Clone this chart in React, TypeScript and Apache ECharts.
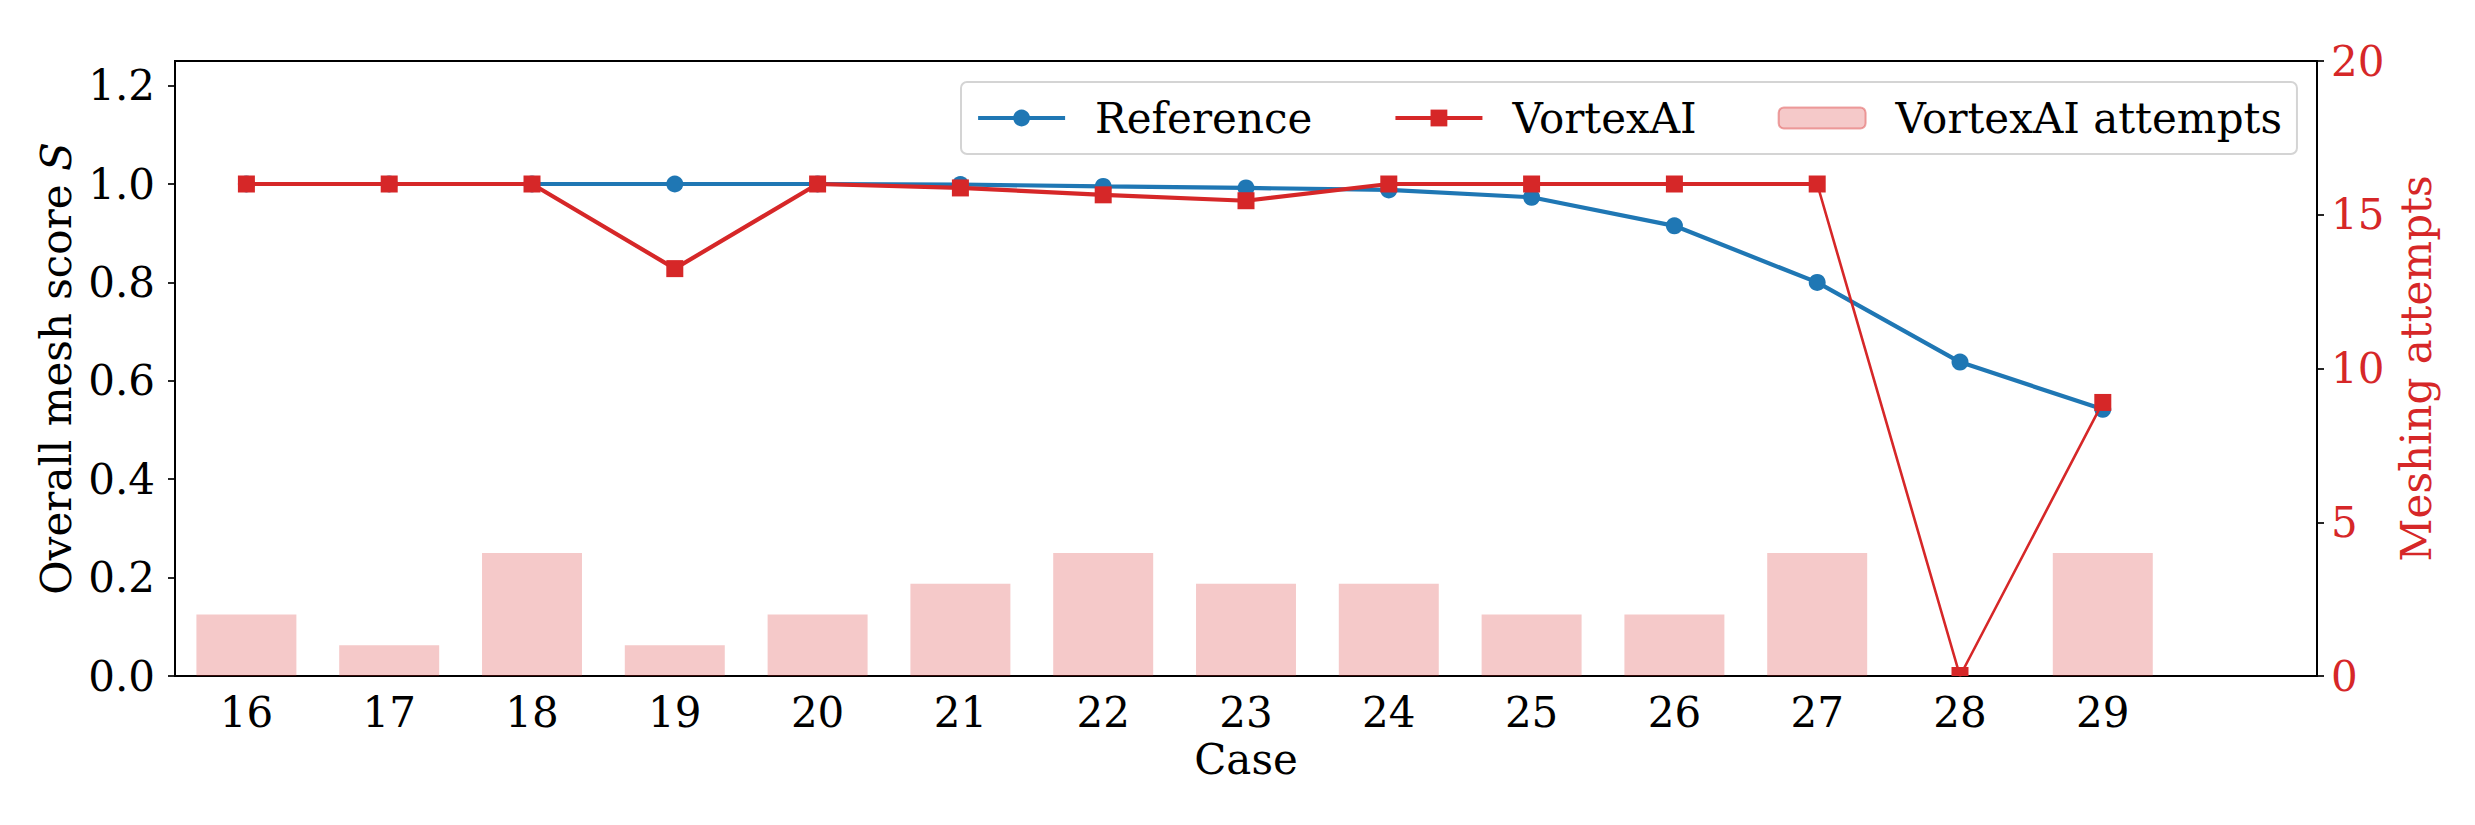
import React, { useEffect, useRef } from "react";
import * as echarts from "echarts";

const cases = [16, 17, 18, 19, 20, 21, 22, 23, 24, 25, 26, 27, 28, 29];
const referenceScores = [1.0, 1.0, 1.0, 1.0, 1.0, 0.999, 0.995, 0.992, 0.988, 0.973, 0.915, 0.8, 0.638, 0.542];
const vortexScores = [1.0, 1.0, 1.0, 0.828, 1.0, 0.992, 0.978, 0.966, 1.0, 1.0, 1.0, 1.0, 0.0, 0.556];
const vortexAttempts = [2, 1, 4, 1, 2, 3, 4, 3, 3, 2, 2, 4, 0, 4];
const leftTicks = [0, 0.2, 0.4, 0.6, 0.8, 1.0, 1.2];
const rightTicks = [0, 5, 10, 15, 20];
const lastRegularIndex = 11; // case 27: the last point of the thick VortexAI line

const FONT = "DejaVu Serif";
const RED = "#d62728";
const BLUE = "#1f77b4";

export default function App() {
  const ref = useRef<HTMLDivElement>(null);

  useEffect(() => {
    if (!ref.current) return;
    const chart = echarts.init(ref.current, undefined, { renderer: "svg" });

    const categories = [...cases.map(String), ""];

    const mainVortex = vortexScores.map((v, i) => (i <= lastRegularIndex ? v : null));
    const tailVortex = vortexScores.map((v, i) => {
      if (i < lastRegularIndex) return null;
      if (i === lastRegularIndex) return { value: v, symbol: "none" };
      if (v === 0) return { value: v, symbolSize: [17, 9], symbolOffset: [0, -4.5] };
      return v;
    });

    const option: any = {
      animation: false,
      backgroundColor: "#ffffff",
      textStyle: { fontFamily: FONT },
      grid: {
        left: 175,
        right: 158,
        top: 61,
        bottom: 149,
        show: true,
        borderColor: "#000",
        borderWidth: 2,
        backgroundColor: "transparent",
      },
      legend: {
        left: 961,
        top: 82,
        padding: [15, 15, 15, 15],
        itemWidth: 87,
        itemHeight: 21,
        itemGap: 81,
        borderColor: "#d4d4d4",
        borderWidth: 2,
        borderRadius: 6,
        backgroundColor: "rgba(255,255,255,0.8)",
        lineStyle: { width: 4.2 },
        textStyle: { fontFamily: FONT, fontSize: 42, color: "#000", padding: [0, 0, 0, 25] },
        data: [
          { name: "Reference" },
          { name: "VortexAI" },
          {
            name: "VortexAI attempts",
            itemStyle: { borderColor: "rgba(214,39,40,0.4)", borderWidth: 2 },
          },
        ],
      },
      xAxis: {
        type: "category",
        data: categories,
        boundaryGap: true,
        name: "Case",
        nameLocation: "middle",
        nameGap: 62,
        nameTextStyle: { fontFamily: FONT, fontSize: 42, color: "#000" },
        axisLine: { lineStyle: { color: "#000", width: 2 } },
        axisTick: {
          alignWithLabel: true,
          length: 7,
          interval: (i: number) => i < cases.length,
          lineStyle: { color: "#000", width: 1.7 },
        },
        axisLabel: {
          interval: 0,
          fontFamily: FONT,
          fontSize: 42,
          color: "#000",
          margin: 15,
        },
        splitLine: { show: false },
      },
      yAxis: [
        {
          type: "value",
          min: 0,
          max: 1.25,
          interval: 0.2,
          position: "left",
          name: "Overall mesh score {s|S}",
          nameLocation: "middle",
          nameGap: 82,
          nameTextStyle: {
            fontFamily: FONT,
            fontSize: 42,
            color: "#000",
            rich: { s: { fontFamily: FONT, fontSize: 42, fontStyle: "italic", color: "#000" } },
          },
          axisLine: { show: true, lineStyle: { color: "#000", width: 2 } },
          axisTick: { show: true, length: 7, customValues: leftTicks, lineStyle: { color: "#000", width: 1.7 } },
          axisLabel: {
            customValues: leftTicks,
            formatter: (v: number) => v.toFixed(1),
            fontFamily: FONT,
            fontSize: 42,
            color: "#000",
            margin: 20,
          },
          splitLine: { show: false },
        },
        {
          type: "value",
          min: 0,
          max: 20,
          interval: 5,
          position: "right",
          name: "Meshing attempts",
          nameLocation: "middle",
          nameGap: 60,
          nameTextStyle: { fontFamily: FONT, fontSize: 42, color: RED },
          axisLine: { show: true, lineStyle: { color: "#000", width: 2 } },
          axisTick: { show: true, length: 7, customValues: rightTicks, lineStyle: { color: "#000", width: 1.7 } },
          axisLabel: {
            customValues: rightTicks,
            fontFamily: FONT,
            fontSize: 42,
            color: RED,
            margin: 14,
          },
          splitLine: { show: false },
        },
      ],
      series: [
        {
          name: "VortexAI attempts",
          type: "bar",
          yAxisIndex: 1,
          data: vortexAttempts,
          barWidth: "70%",
          itemStyle: { color: "rgba(214,39,40,0.25)" },
          z: 1,
        },
        {
          name: "Reference",
          type: "line",
          data: referenceScores,
          symbol: "circle",
          symbolSize: 17,
          lineStyle: { color: BLUE, width: 4.2 },
          itemStyle: { color: BLUE },
          z: 3,
        },
        {
          name: "VortexAI",
          type: "line",
          data: mainVortex,
          symbol: "rect",
          symbolSize: 17,
          lineStyle: { color: RED, width: 4.2 },
          itemStyle: { color: RED },
          z: 4,
        },
        {
          name: "VortexAI tail",
          type: "line",
          data: tailVortex,
          symbol: "rect",
          symbolSize: 17,
          lineStyle: { color: RED, width: 2.6 },
          itemStyle: { color: RED },
          z: 4,
        },
      ],
    };

    chart.setOption(option);
    return () => chart.dispose();
  }, []);

  return (
    <div
      ref={ref}
      style={{ position: "fixed", left: 0, top: 0, width: 2475, height: 825, background: "#fff" }}
    />
  );
}
